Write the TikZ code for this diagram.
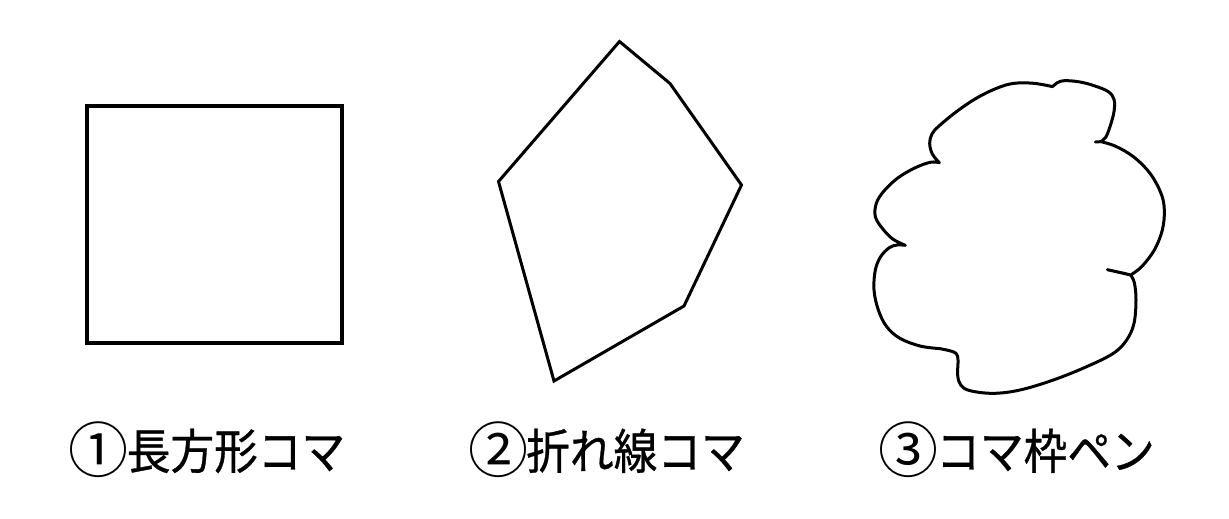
\documentclass[tikz,border=0pt]{standalone}
\usepackage{fontspec}
\newfontfamily\cjk[FakeBold=0.7]{Noto Sans CJK JP}
\newfontfamily\cjkplain{Noto Sans CJK JP}
\newcommand{\circnum}[1]{{\cjkplain\fontsize{60}{60}\selectfont\raisebox{-3pt}{#1}}\hspace{-2pt}}
\newcommand{\captext}[1]{\scalebox{0.91}[1]{#1}}
\tikzset{
  frame/.style={draw=black, line width=3.2pt, line join=miter},
  poly/.style={draw=black, line width=3pt, line join=miter},
  cloudline/.style={draw=black, line width=3pt, line join=round, line cap=round},
  caption/.style={anchor=base, inner sep=0pt, font=\cjk\fontsize{48}{48}\selectfont}
}
\begin{document}
\begin{tikzpicture}[x=1pt, y=-1pt]
\useasboundingbox[fill=white] (0,0) rectangle (1229,519);
% 1: rectangle
\draw[frame] (87,106) rectangle (342,343);
% 2: polyline frame
\coordinate (p1) at (619.5,41.5);
\coordinate (p2) at (670,83.5);
\coordinate (p3) at (741.5,185);
\coordinate (p4) at (684,306);
\coordinate (p5) at (554,381);
\coordinate (p6) at (498.5,181.5);
\draw[poly] (p1) -- (p2) -- (p3) -- (p4) -- (p5) -- (p6) -- cycle;
% 3: cloud pen frame
\begin{scope}[xshift=860pt, yshift=-60pt, x=0.33333pt, y=-0.33333pt]
\draw[cloudline]
  plot[smooth, tension=0.6] coordinates {(578,80) (592,68) (615,62) (660,66) (705,78) (745,95) (762,118) (762,155) (750,200) (737,232) (722,245)}
  -- (706,246) -- (722,245)
  -- plot[smooth, tension=0.6] coordinates {(722,245) (765,258) (820,290) (870,340) (903,400) (913,450) (907,510) (883,570) (845,620) (812,645)}
  -- (742,629) -- (792,640) -- (812,645)
  -- plot[smooth, tension=0.6] coordinates {(812,645) (823,668) (828,720) (822,790) (800,840) (760,880) (680,920) (580,960) (480,990) (400,1000) (330,992) (302,975) (293,945) (294,900) (288,880) (268,872) (240,866)}
  -- plot[smooth, tension=0.6] coordinates {(240,866) (180,858) (120,835) (80,800) (55,750) (42,690) (46,630) (62,590) (88,563) (112,555) (136,556)}
  -- plot[smooth, tension=0.6] coordinates {(136,556) (98,537) (67,505) (46,470) (49,430) (71,394) (112,355) (162,325) (210,307) (238,308)}
  -- plot[smooth, tension=0.6] coordinates {(238,308) (217,282) (209,250) (216,222) (237,198) (292,153) (352,113) (412,84) (462,70) (522,70) (578,80)};
\end{scope}
% captions
\node[caption] (c1) at (207,469) {\circnum{①}\captext{長方形コマ}};
\node[caption] (c2) at (606.5,469) {\circnum{②}\captext{折れ線コマ}};
\node[caption] (c3) at (1016.5,469) {\circnum{③}\captext{コマ枠ペン}};
\end{tikzpicture}
\end{document}
